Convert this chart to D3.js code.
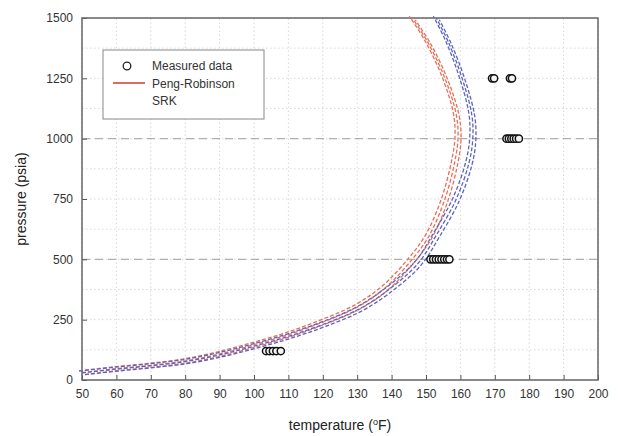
<!DOCTYPE html>
<html>
<head>
<meta charset="utf-8">
<script src="https://cdn.jsdelivr.net/npm/d3@7"></script>
<style>
  body { margin: 0; background: #fff; }
  text { font-family: "Liberation Sans", Arial, sans-serif; }
</style>
</head>
<body>
<svg id="chart"></svg>
<script>
var width = 621,
    height = 436,
    margin = {top: 18, right: 23, bottom: 56, left: 82};

// model curves, [temperature F, pressure psia]
var prCurve = [[50, 30], [60, 47], [70, 61], [80, 79], [90, 108], [100, 146], [110, 188],
               [120, 240], [130, 302], [138, 380], [146, 500], [151, 600], [155.5, 750],
               [158.3, 900], [159.3, 1000], [158.8, 1100], [155.5, 1250], [150.5, 1400], [146, 1500]];
var srkCurve = [[50, 30], [60, 45], [70, 59], [80, 76], [90, 104], [100, 140], [110, 181],
                [120, 230], [130, 290], [138, 362], [147.5, 480], [153, 600], [158.8, 750],
                [162.5, 900], [163.6, 1000], [163.3, 1100], [160.5, 1250], [156.5, 1400], [153, 1500]];

// measured data
var measuredT = [103.5, 104.5, 105.5, 106.5, 107.8,
                 151.3, 152.1, 152.9, 153.7, 154.5, 155.3, 156.1, 156.8,
                 173.4, 174.1, 174.8, 175.5, 176.2, 177,
                 169.2, 169.8, 174.4, 175];
var measuredP = [120, 120, 120, 120, 120,
                 500, 500, 500, 500, 500, 500, 500, 500,
                 1000, 1000, 1000, 1000, 1000, 1000,
                 1250, 1250, 1250, 1250];

var xTicks = d3.range(50, 201, 10),
    yTicks = [0, 250, 500, 750, 1000, 1250, 1500],
    yMinor = d3.range(125, 1500, 250),
    dashedLevels = [500, 1000];

var svg = d3.select("#chart")
            .attr("width", width)
            .attr("height", height);

var x = d3.scaleLinear().domain([50, 200]).range([margin.left, width - margin.right]),
    y = d3.scaleLinear().domain([0, 1500]).range([height - margin.bottom, margin.top]);

//grid
var grid = svg.append("g").attr("class", "grid");
grid.selectAll(".vgrid")
    .data(xTicks)
    .enter().append("line")
    .attr("x1", function(d) { return x(d); })
    .attr("x2", function(d) { return x(d); })
    .attr("y1", y(0))
    .attr("y2", y(1500))
    .attr("stroke", "#d8d8d8")
    .attr("stroke-dasharray", "1.5,2.5");
grid.selectAll(".hgrid")
    .data(yTicks.concat(yMinor))
    .enter().append("line")
    .attr("x1", x(50))
    .attr("x2", x(200))
    .attr("y1", function(d) { return y(d); })
    .attr("y2", function(d) { return y(d); })
    .attr("stroke", "#d8d8d8")
    .attr("stroke-dasharray", "1.5,2.5");
grid.selectAll(".dgrid")
    .data(dashedLevels)
    .enter().append("line")
    .attr("x1", x(50))
    .attr("x2", x(200))
    .attr("y1", function(d) { return y(d); })
    .attr("y2", function(d) { return y(d); })
    .attr("stroke", "#b0b0b0")
    .attr("stroke-width", 1.2)
    .attr("stroke-dasharray", "8,5");

//axes
var xAxis = d3.axisBottom(x).tickValues(xTicks).tickSizeInner(-5).tickSizeOuter(0).tickPadding(9),
    yAxis = d3.axisLeft(y).tickValues(yTicks).tickFormat(d3.format("d"))
              .tickSizeInner(-5).tickSizeOuter(0).tickPadding(9);

var gx = svg.append("g")
   .attr("transform", "translate(0," + y(0) + ")")
   .call(xAxis);
var gy = svg.append("g")
   .attr("transform", "translate(" + x(50) + ",0)")
   .call(yAxis);
[gx, gy].forEach(function(g) {
  g.select(".domain").remove();
  g.selectAll(".tick line").attr("stroke", "#555");
  g.selectAll(".tick text").attr("fill", "#333").style("font-size", "12px");
});

svg.append("rect")
   .attr("x", x(50))
   .attr("y", y(1500))
   .attr("width", x(200) - x(50))
   .attr("height", y(0) - y(1500))
   .attr("fill", "none")
   .attr("stroke", "#666")
   .attr("stroke-width", 1.5);

//curves, each drawn as a band of three dashed lines
var line = d3.line()
             .x(function(d) { return x(d[0]); })
             .y(function(d) { return y(d[1]); })
             .curve(d3.curveCatmullRom);

var offsets = [[-3, -1.8], [0, 0], [3, 1.8]];

function drawBand(data, color) {
  svg.append("g").selectAll("path")
     .data(offsets)
     .enter().append("path")
     .attr("transform", function(o) { return "translate(" + o[0] + "," + o[1] + ")"; })
     .attr("d", line(data))
     .attr("fill", "none")
     .attr("stroke", color)
     .attr("stroke-width", 1.3)
     .attr("stroke-dasharray", "4,2");
}
drawBand(prCurve, "#e8705a");
drawBand(srkCurve, "#5a64c0");

//measured data
svg.append("g").selectAll("circle")
   .data(d3.range(measuredT.length))
   .enter().append("circle")
   .attr("cx", function(i) { return x(measuredT[i]); })
   .attr("cy", function(i) { return y(measuredP[i]); })
   .attr("r", 3.6)
   .attr("fill", "#f4f4f4")
   .attr("stroke", "#111")
   .attr("stroke-width", 1.5);

//legend
var legend = svg.append("g").attr("transform", "translate(103,50)");
legend.append("rect")
      .attr("width", 161)
      .attr("height", 69)
      .attr("fill", "#fff")
      .attr("stroke", "#888");
legend.append("circle")
      .attr("cx", 24).attr("cy", 16).attr("r", 3.8)
      .attr("fill", "#fff").attr("stroke", "#222").attr("stroke-width", 1.3);
legend.append("line")
      .attr("x1", 10).attr("x2", 42).attr("y1", 33).attr("y2", 33)
      .attr("stroke", "#d23a2a").attr("stroke-width", 1.5);
legend.selectAll(".ltext")
      .data(["Measured data", "Peng-Robinson", "SRK"])
      .enter().append("text")
      .attr("x", 49)
      .attr("y", function(d, i) { return 20 + i * 17.5; })
      .attr("fill", "#333")
      .style("font-size", "12px")
      .text(function(d) { return d; });

//axis titles
svg.append("text")
   .attr("transform", "translate(26," + (y(750)) + ") rotate(-90)")
   .attr("text-anchor", "middle")
   .attr("fill", "#222")
   .style("font-size", "14px")
   .text("pressure (psia)");

var xt = svg.append("text")
   .attr("x", 340)
   .attr("y", 430)
   .attr("text-anchor", "middle")
   .attr("fill", "#222")
   .style("font-size", "14px");
xt.append("tspan").text("temperature (");
xt.append("tspan").attr("dy", -5).style("font-size", "9px").text("o");
xt.append("tspan").attr("dy", 5).text("F)");
</script>
</body>
</html>
